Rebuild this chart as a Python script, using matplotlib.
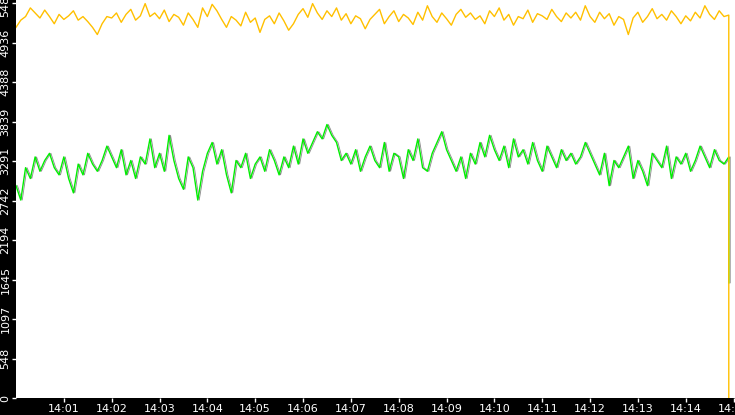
import matplotlib
matplotlib.use("Agg")
import matplotlib.pyplot as plt
import numpy as np

# values sampled every 6 seconds from 14:00:00
yellow = [5150, 5250, 5300, 5420, 5350, 5280, 5390, 5300, 5200, 5330, 5260, 5310, 5380, 5250, 5300, 5230, 5150, 5050, 5200, 5300,
          5280, 5350, 5220, 5330, 5400, 5250, 5310, 5480, 5300, 5350, 5270, 5390, 5230, 5330, 5290, 5180, 5350, 5260, 5150, 5420,
          5300, 5470, 5380, 5260, 5150, 5300, 5250, 5170, 5360, 5220, 5280, 5080, 5260, 5310, 5200, 5350, 5240, 5110, 5200, 5330,
          5410, 5290, 5480, 5350, 5260, 5380, 5300, 5420, 5250, 5340, 5200, 5310, 5270, 5130, 5260, 5330, 5400, 5200, 5300, 5380,
          5230, 5330, 5280, 5190, 5360, 5250, 5450, 5300, 5220, 5350, 5270, 5180, 5330, 5400, 5290, 5350, 5260, 5310, 5200, 5380,
          5300, 5420, 5250, 5330, 5180, 5300, 5270, 5390, 5220, 5340, 5310, 5260, 5400, 5300, 5230, 5350, 5280, 5360, 5250, 5450,
          5300, 5220, 5360, 5270, 5340, 5180, 5300, 5260, 5050, 5280, 5360, 5220, 5300, 5410, 5270, 5330, 5250, 5380, 5300, 5200,
          5310, 5240, 5360, 5280, 5450, 5330, 5260, 5380, 5300, 5320, 0]
green = [2950, 2750, 3200, 3050, 3350, 3150, 3300, 3400, 3200, 3100, 3350, 3050, 2850, 3250, 3100, 3400, 3250, 3150, 3300, 3500,
         3350, 3200, 3450, 3100, 3300, 3050, 3350, 3250, 3600, 3200, 3400, 3150, 3650, 3300, 3050, 2900, 3350, 3200, 2750, 3150,
         3400, 3550, 3250, 3450, 3100, 2850, 3300, 3200, 3400, 3050, 3250, 3350, 3150, 3450, 3300, 3100, 3350, 3200, 3500, 3250,
         3600, 3400, 3550, 3700, 3600, 3800, 3650, 3550, 3300, 3400, 3250, 3450, 3150, 3350, 3500, 3300, 3200, 3550, 3150, 3400,
         3350, 3050, 3450, 3300, 3600, 3200, 3150, 3400, 3550, 3700, 3450, 3300, 3150, 3350, 3050, 3400, 3250, 3550, 3350, 3650,
         3450, 3300, 3500, 3200, 3600, 3350, 3450, 3250, 3550, 3300, 3150, 3500, 3350, 3200, 3450, 3300, 3400, 3250, 3350, 3550,
         3400, 3250, 3100, 3400, 2950, 3300, 3200, 3350, 3500, 3050, 3300, 3150, 2950, 3400, 3300, 3200, 3500, 3050, 3350, 3250,
         3400, 3150, 3300, 3500, 3350, 3200, 3450, 3300, 3250, 3350, 1600]
tick_labels = ["14:01", "14:02", "14:03", "14:04", "14:05", "14:06", "14:07", "14:08",
               "14:09", "14:10", "14:11", "14:12", "14:13", "14:14", "14:15"]
y_ticks = [0, 548, 1097, 1645, 2194, 2742, 3291, 3839, 4388, 4936, 5485]

t_yellow = np.arange(len(yellow)) * 0.1
t_green = np.arange(len(green)) * 0.1
t_yellow[-1] = t_yellow[-2]
t_green[-1] = t_green[-2]

fig = plt.figure(figsize=(7.35, 4.15), dpi=100, facecolor="black")
ax = fig.add_axes([16 / 735, 17 / 415, 719 / 735, 398 / 415])
ax.set_facecolor("white")

ax.plot(t_green + 0.03, green, color="#888888", linewidth=0.6)
ax.plot(t_green, green, color="#00ee00", linewidth=1.0)
ax.plot(t_yellow, yellow, color="#ffc000", linewidth=1.0)

ax.set_xlim(0, 15.03)
ax.set_ylim(0, 5530)
ax.set_xticks(np.arange(1, 16))
ax.set_xticklabels(tick_labels)
ax.set_yticks(y_ticks)
ax.set_yticklabels([str(v) for v in y_ticks], rotation=90, va="center")
ax.tick_params(colors="white", labelsize=8, length=3, width=1, pad=1)
for s in ax.spines.values():
    s.set_visible(False)

fig.savefig("out.png", dpi=100, facecolor="black")
